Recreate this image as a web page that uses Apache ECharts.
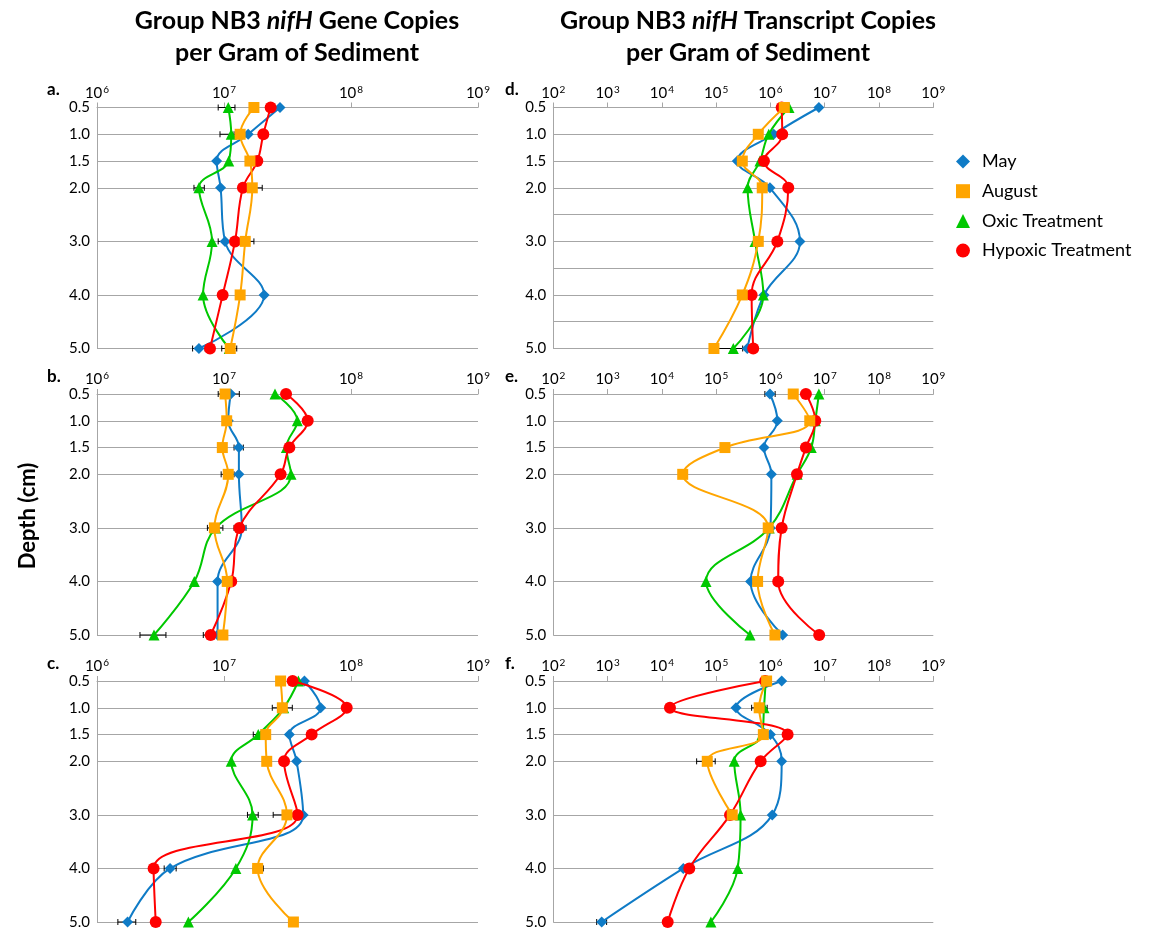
<!DOCTYPE html>
<html><head><meta charset="utf-8">
<script src="https://cdn.jsdelivr.net/npm/echarts@6/dist/echarts.min.js"></script>
<style>html,body{margin:0;padding:0;background:#fff}#c{width:1151px;height:932px}</style>
</head><body><div id="c"></div>
<script>
// ---------- DATA ----------
const depths = [0.5, 1.0, 1.5, 2.0, 3.0, 4.0, 5.0];
const depthLabels = ['0.5', '1.0', '1.5', '2.0', '3.0', '4.0', '5.0'];
const seriesNames = ['May', 'August', 'Oxic Treatment', 'Hypoxic Treatment'];
const geneTicks = [1e6, 1e9];
const transcriptTicks = [1e2, 1e9];

// a. gene copies
const a_may      = [2.76e7, 1.55e7, 8.75e6, 9.4e6, 1.02e7, 2.07e7, 6.35e6];
const a_august   = [1.72e7, 1.34e7, 1.60e7, 1.67e7, 1.47e7, 1.34e7, 1.12e7];
const a_oxic     = [1.08e7, 1.14e7, 1.09e7, 6.35e6, 8.05e6, 6.84e6, 1.10e7];
const a_hypoxic  = [2.33e7, 2.04e7, 1.83e7, 1.41e7, 1.22e7, 9.76e6, 7.76e6];
// b. gene copies
const b_may      = [1.13e7, 1.08e7, 1.31e7, 1.31e7, 1.38e7, 8.9e6, 8.9e6];
const b_august   = [1.02e7, 1.05e7, 9.7e6, 1.08e7, 8.4e6, 1.06e7, 9.8e6];
const b_oxic     = [2.52e7, 3.78e7, 3.1e7, 3.37e7, 8.6e6, 5.84e6, 2.81e6];
const b_hypoxic  = [3.08e7, 4.56e7, 3.27e7, 2.79e7, 1.32e7, 1.14e7, 7.85e6];
// c. gene copies
const c_may      = [4.3e7, 5.77e7, 3.27e7, 3.73e7, 4.2e7, 3.76e6, 1.74e6];
const c_august   = [2.79e7, 2.88e7, 2.13e7, 2.17e7, 3.13e7, 1.84e7, 3.52e7];
const c_oxic     = [3.85e7, 2.95e7, 1.86e7, 1.14e7, 1.68e7, 1.24e7, 5.24e6];
const c_hypoxic  = [3.47e7, 9.25e7, 4.9e7, 2.97e7, 3.8e7, 2.79e6, 2.9e6];
// d. transcript copies
const d_may      = [7.8e6, 1.15e6, 2.45e5, 9.8e5, 3.49e6, 7.6e5, 3.74e5];
const d_august   = [1.8e6, 5.97e5, 3.03e5, 7.06e5, 5.97e5, 3.03e5, 9.1e4];
const d_oxic     = [2.2e6, 9.3e5, 6.4e5, 3.8e5, 5.2e5, 7.4e5, 2.07e5];
const d_hypoxic  = [1.61e6, 1.65e6, 7.6e5, 2.13e6, 1.34e6, 4.5e5, 4.82e5];
// e. transcript copies
const e_may      = [9.8e5, 1.34e6, 7.6e5, 1.04e6, 1.0e6, 4.3e5, 1.68e6];
const e_august   = [2.63e6, 5.3e6, 1.45e5, 2.42e4, 9.1e5, 5.8e5, 1.21e6];
const e_oxic     = [7.8e6, 6.7e6, 5.65e6, 3.1e6, 9.5e5, 6.5e4, 4.2e5];
const e_hypoxic  = [4.5e6, 6.7e6, 4.5e6, 3.08e6, 1.61e6, 1.39e6, 7.9e6];
// f. transcript copies
const f_may      = [1.61e6, 2.32e5, 1.0e6, 1.61e6, 1.08e6, 2.48e4, 778];
const f_august   = [8.5e5, 6.2e5, 7.4e5, 6.86e4, 1.98e5, null, null];
const f_oxic     = [8.2e5, 7.6e5, 7.0e5, 2.15e5, 2.82e5, 2.49e5, 8.0e4];
const f_hypoxic  = [8.0e5, 1.41e4, 2.07e6, 6.6e5, 1.8e5, 3.2e4, 1.28e4];

// error bars: [series, depth, low, high]
const errA = [['Oxic Treatment', 0.5, 9.0e6, 1.22e7], ['Oxic Treatment', 1.0, 9.3e6, 1.2e7],
  ['Oxic Treatment', 2.0, 5.8e6, 7.0e6], ['Hypoxic Treatment', 2.0, 1.3e7, 1.5e7], ['August', 2.0, 1.45e7, 2.0e7],
  ['May', 3.0, 9.0e6, 1.15e7], ['August', 3.0, 1.3e7, 1.72e7], ['May', 5.0, 5.66e6, 7.1e6], ['August', 5.0, 9.6e6, 1.26e7]];
const errB = [['May', 0.5, 9.0e6, 1.32e7], ['May', 1.5, 1.2e7, 1.42e7], ['August', 2.0, 9.5e6, 1.2e7],
  ['August', 3.0, 7.4e6, 9.8e6], ['May', 3.0, 1.2e7, 1.49e7], ['Oxic Treatment', 5.0, 2.18e6, 3.49e6],
  ['Hypoxic Treatment', 5.0, 6.87e6, 9.0e6]];
const errC = [['August', 1.0, 2.4e7, 3.45e7], ['Oxic Treatment', 1.5, 1.7e7, 1.95e7], ['Oxic Treatment', 3.0, 1.53e7, 1.86e7],
  ['August', 3.0, 2.44e7, 3.4e7], ['May', 4.0, 3.38e6, 4.2e6], ['August', 4.0, 1.7e7, 2.04e7],
  ['May', 5.0, 1.46e6, 2.02e6], ['August', 5.0, 3.27e7, 3.75e7]];
const errD = [['Oxic Treatment', 5.0, 1.0e5, 3.08e5]];
const errE = [['May', 0.5, 7.9e5, 1.22e6]];
const errF = [['August', 1.0, 4.5e5, 8.7e5], ['August', 2.0, 4.37e4, 9.6e4], ['May', 5.0, 630, 960]];

// ---------- STYLE ----------
const FONT = 'Lato';
const colors = { 'May': '#0F7BC6', 'August': '#FFA500', 'Oxic Treatment': '#00C800', 'Hypoxic Treatment': '#FF0000' };
const symbols = { 'May': 'diamond', 'August': 'rect', 'Oxic Treatment': 'triangle', 'Hypoxic Treatment': 'circle' };
const symSize = { 'May': 11, 'August': 11, 'Oxic Treatment': 11, 'Hypoxic Treatment': 12 };
const zOrder = { 'May': 2, 'Oxic Treatment': 3, 'Hypoxic Treatment': 4, 'August': 5 };

const panels = [
  { letter: 'a.', col: 0, row: 0, vals: [a_may, a_august, a_oxic, a_hypoxic], err: errA, extra: false },
  { letter: 'b.', col: 0, row: 1, vals: [b_may, b_august, b_oxic, b_hypoxic], err: errB, extra: false },
  { letter: 'c.', col: 0, row: 2, vals: [c_may, c_august, c_oxic, c_hypoxic], err: errC, extra: false },
  { letter: 'd.', col: 1, row: 0, vals: [d_may, d_august, d_oxic, d_hypoxic], err: errD, extra: true },
  { letter: 'e.', col: 1, row: 1, vals: [e_may, e_august, e_oxic, e_hypoxic], err: errE, extra: false },
  { letter: 'f.', col: 1, row: 2, vals: [f_may, f_august, f_oxic, f_hypoxic], err: errF, extra: false }
];
const colLeft = [97, 553.3], colWidth = [381, 380];
const rowTop = [107.5, 394, 681], rowHeight = 241;

const grids = [], xAxes = [], yAxes = [], series = [], graphics = [];
panels.forEach((p, gi) => {
  grids.push({ left: colLeft[p.col], top: rowTop[p.row], width: colWidth[p.col], height: rowHeight });
  const ext = p.col === 0 ? geneTicks : transcriptTicks;
  xAxes.push({
    type: 'log', logBase: 10, gridIndex: gi, position: 'top', min: ext[0], max: ext[1],
    axisLine: { show: true, lineStyle: { color: '#a6a6a6', width: 1 } },
    axisTick: { show: true, length: 5, lineStyle: { color: '#a6a6a6' } },
    splitLine: { show: false },
    axisLabel: {
      margin: 7,
      formatter: v => '{b|10}{s|' + Math.round(Math.log10(v)) + '}',
      rich: {
        b: { fontFamily: FONT, fontSize: 15, color: '#000', verticalAlign: 'bottom' },
        s: { fontFamily: FONT, fontSize: 10, color: '#000', verticalAlign: 'top', padding: [0, 0, 6, 1] }
      }
    }
  });
  const lineCols = [];
  for (let v = 0.5; v <= 5.0001; v += 0.5) {
    const show = p.extra || depthLabels.includes(v.toFixed(1));
    lineCols.push(show ? '#a6a6a6' : 'rgba(0,0,0,0)');
  }
  yAxes.push({
    type: 'value', gridIndex: gi, inverse: true, min: 0.5, max: 5.0, interval: 0.5,
    axisLine: { show: true, lineStyle: { color: '#a6a6a6', width: 1 } },
    axisTick: { show: false },
    splitLine: { show: true, lineStyle: { color: lineCols, width: 1 } },
    axisLabel: {
      margin: 7, fontFamily: FONT, fontSize: 15, color: '#000',
      formatter: v => { const s = v.toFixed(1); return depthLabels.includes(s) ? s : ''; }
    }
  });
  // error bars
  series.push({
    type: 'custom', xAxisIndex: gi, yAxisIndex: gi, z: 1, silent: true, clip: false,
    data: p.err.map(e => [e[1], e[2], e[3]]),
    encode: { x: [1, 2], y: 0 },
    renderItem: (params, api) => {
      const y = api.value(0), lo = api.value(1), hi = api.value(2);
      const p1 = api.coord([lo, y]), p2 = api.coord([hi, y]);
      const h = 3, st = { stroke: '#000', lineWidth: 1 };
      return { type: 'group', children: [
        { type: 'line', shape: { x1: p1[0], y1: p1[1], x2: p2[0], y2: p2[1] }, style: st },
        { type: 'line', shape: { x1: p1[0], y1: p1[1] - h, x2: p1[0], y2: p1[1] + h }, style: st },
        { type: 'line', shape: { x1: p2[0], y1: p2[1] - h, x2: p2[0], y2: p2[1] + h }, style: st }
      ] };
    }
  });
  seriesNames.forEach((name, si) => {
    const data = [];
    p.vals[si].forEach((v, i) => { if (v != null) data.push([v, depths[i]]); });
    series.push({
      name, type: 'line', xAxisIndex: gi, yAxisIndex: gi, data, z: zOrder[name],
      smooth: 0.4, clip: false, symbol: symbols[name], symbolSize: symSize[name],
      showSymbol: true, showAllSymbol: true,
      lineStyle: { color: colors[name], width: 2 },
      itemStyle: { color: colors[name], borderWidth: 0 },
      emphasis: { disabled: true }, animation: false
    });
  });
  graphics.push({
    type: 'text', left: p.col === 0 ? 47 : 505, top: rowTop[p.row] - 26,
    style: { text: p.letter, fontFamily: FONT, fontWeight: 'bold', fontSize: 17, fill: '#000' }
  });
});

graphics.push({
  type: 'text', x: 28, y: 516, rotation: Math.PI / 2,
  style: { text: 'Depth (cm)', fontFamily: FONT, fontWeight: 'bold', fontSize: 22, fill: '#000',
    textAlign: 'center', textVerticalAlign: 'middle' }
});

const titleRich = {
  b: { fontFamily: FONT, fontWeight: 'bold', fontSize: 25, color: '#000', lineHeight: 32 },
  i: { fontFamily: FONT, fontWeight: 'bold', fontStyle: 'italic', fontSize: 25, color: '#000', lineHeight: 32 }
};

const option = {
  backgroundColor: '#fff',
  animation: false,
  textStyle: { fontFamily: FONT },
  title: [
    { text: '{b|Group NB3 }{i|nifH}{b| Gene Copies}\n{b|per Gram of Sediment}', left: 292, top: 0, textAlign: 'center',
      textStyle: { rich: titleRich, align: 'center' } },
    { text: '{b|Group NB3 }{i|nifH}{b| Transcript Copies}\n{b|per Gram of Sediment}', left: 743, top: 0, textAlign: 'center',
      textStyle: { rich: titleRich, align: 'center' } }
  ],
  legend: {
    orient: 'vertical', left: 956, top: 152.5, padding: 0, itemWidth: 14, itemHeight: 14, itemGap: 11.7,
    data: seriesNames.map(n => ({ name: n, icon: symbols[n] })),
    textStyle: { fontFamily: FONT, fontSize: 18, color: '#000', padding: [0, 0, 0, 7] },
    selectedMode: false
  },
  grid: grids, xAxis: xAxes, yAxis: yAxes, series, graphic: graphics
};
const chart = echarts.init(document.getElementById('c'), null, { renderer: 'canvas' });
chart.setOption(option);
</script></body></html>
